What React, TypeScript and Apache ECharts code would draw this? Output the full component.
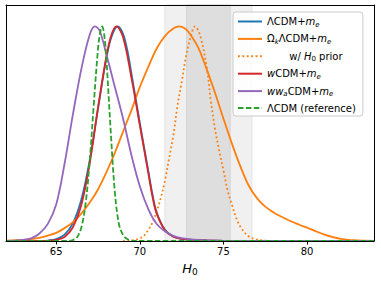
import React, { useEffect, useRef } from "react";
import * as echarts from "echarts";

const xTicks = [65, 70, 75, 80];
const xRange = [62, 84];
const yRange = [0, 1.1];
const bandOuter = [71.5, 76.7];
const bandInner = [72.8, 75.4];

const lcdmMe = [
  [62, 0], [64.0, 0.0005], [64.5, 0.002], [65.0, 0.009], [65.5, 0.03], [66.0, 0.083], [66.5, 0.192],
  [67.0, 0.375], [67.5, 0.617], [68.0, 0.852], [68.3, 0.95], [68.68, 1.0], [69.0, 0.965],
  [69.25, 0.89], [69.5, 0.78], [70.0, 0.55], [70.5, 0.33], [70.75, 0.22], [71.0, 0.135],
  [71.5, 0.052], [72.0, 0.021], [72.5, 0.01], [73.0, 0.006], [74.0, 0.003], [75.0, 0.001], [76.0, 0], [84, 0],
];
const okLcdmMe = [
  [62.0, 0.0015], [62.5, 0.003], [63.0, 0.005], [63.5, 0.009], [64.0, 0.015], [64.5, 0.025],
  [65.0, 0.038], [65.5, 0.06], [66.0, 0.088], [66.5, 0.128], [67.0, 0.178], [67.5, 0.24],
  [68.0, 0.32], [68.5, 0.41], [69.0, 0.51], [69.5, 0.61], [70.0, 0.717], [70.5, 0.81],
  [71.0, 0.896], [71.5, 0.955], [72.0, 0.99], [72.35, 1.0], [72.7, 0.99], [73.0, 0.965],
  [73.5, 0.9], [74.0, 0.8], [74.5, 0.69], [75.0, 0.57], [75.5, 0.455], [76.0, 0.35],
  [76.5, 0.26], [77.0, 0.2], [77.5, 0.16], [78.0, 0.133], [78.5, 0.112], [79.0, 0.093],
  [79.5, 0.077], [80.0, 0.062], [80.5, 0.046], [81.0, 0.031], [81.5, 0.019], [82.0, 0.01],
  [82.5, 0.005], [83.0, 0.003], [83.5, 0.0015], [84.0, 0.001],
];
const h0Prior = [
  [69.0, 0], [69.5, 0.002], [70.0, 0.012], [70.25, 0.025], [70.5, 0.05], [70.75, 0.085],
  [71.0, 0.135], [71.25, 0.2], [71.5, 0.28], [71.75, 0.385], [72.0, 0.49], [72.25, 0.63],
  [72.5, 0.74], [72.75, 0.855], [73.0, 0.94], [73.3, 1.0], [73.6, 0.96], [74.0, 0.81],
  [74.25, 0.65], [74.5, 0.52], [74.75, 0.42], [75.0, 0.33], [75.25, 0.235], [75.5, 0.17],
  [75.75, 0.11], [76.0, 0.068], [76.5, 0.022], [77.0, 0.007], [77.5, 0.002], [78.0, 0.0005], [78.5, 0],
];
const wcdmMe = [
  [62, 0], [64.0, 0.0003], [64.5, 0.001], [65.0, 0.005], [65.5, 0.019], [66.0, 0.064], [66.5, 0.167],
  [67.0, 0.36], [67.5, 0.62], [68.0, 0.86], [68.3, 0.96], [68.6, 1.0], [69.0, 0.95],
  [69.5, 0.76], [70.0, 0.54], [70.5, 0.32], [70.75, 0.21], [71.0, 0.13], [71.5, 0.05],
  [72.0, 0.02], [72.5, 0.01], [73.0, 0.006], [74.0, 0.003], [75.0, 0.001], [76.0, 0], [84, 0],
];
const wwaCdmMe = [
  [62.0, 0.001], [62.5, 0.002], [63.0, 0.005], [63.5, 0.012], [64.0, 0.035], [64.5, 0.08],
  [65.0, 0.17], [65.5, 0.36], [66.0, 0.59], [66.5, 0.8], [67.0, 0.96], [67.32, 1.0],
  [67.6, 0.98], [68.0, 0.87], [68.5, 0.72], [69.0, 0.57], [69.5, 0.4], [70.0, 0.255],
  [70.5, 0.15], [71.0, 0.08], [71.5, 0.045], [72.0, 0.024], [72.5, 0.013], [73.0, 0.008],
  [74.0, 0.003], [75.0, 0.001], [76.0, 0], [84, 0],
];
const lcdmRef = [
  [62, 0], [65.75, 0], [66.0, 0.004], [66.25, 0.018], [66.5, 0.062], [66.75, 0.169], [67.0, 0.368],
  [67.25, 0.64], [67.5, 0.895], [67.625, 0.97], [67.75, 1.0], [67.875, 0.96], [68.0, 0.85],
  [68.25, 0.525], [68.5, 0.234], [68.75, 0.08], [69.0, 0.028], [69.25, 0.009], [69.5, 0.002],
  [69.75, 0], [84, 0],
];

const FONT = "DejaVu Sans";

const legendRich: Record<string, string> = {
  "ΛCDM+m_e": "{n|ΛCDM+}{i|m}{si|e}",
  "Ω_kΛCDM+m_e": "{n|Ω}{si|k}{n|ΛCDM+}{i|m}{si|e}",
  "w/ H_0 prior": "{n|\u00a0\u00a0\u00a0\u00a0\u00a0\u00a0\u00a0w/ }{i|H}{s|0}{n| prior}",
  "wCDM+m_e": "{i|w}{n|CDM+}{i|m}{si|e}",
  "ww_aCDM+m_e": "{i|ww}{si|a}{n|CDM+}{i|m}{si|e}",
  "ΛCDM (reference)": "{n|ΛCDM (reference)}",
};

export default function App() {
  const ref = useRef<HTMLDivElement>(null);
  useEffect(() => {
    if (!ref.current) return;
    const chart = echarts.init(ref.current, undefined, { renderer: "svg" });
    const line = (name: string, data: number[][], color: string, type: any = "solid", z = 2) => ({
      name,
      type: "line",
      data,
      showSymbol: false,
      symbol: "none",
      smooth: 0.35,
      clip: true,
      z,
      lineStyle: { color, width: 1.8, type },
      itemStyle: { color },
    });
    const axisBase = {
      type: "value",
      min: xRange[0],
      max: xRange[1],
      z: 10,
      splitLine: { show: false },
    };
    chart.setOption({
      animation: false,
      backgroundColor: "#fff",
      grid: { left: 6, right: 7, top: 5, bottom: 42 },
      xAxis: [
        {
          ...axisBase,
          position: "bottom",
          axisLine: { show: true, lineStyle: { color: "#000", width: 1 } },
          axisTick: { show: true, length: 3.5, lineStyle: { color: "#000" }, customValues: xTicks },
          axisLabel: {
            show: true,
            color: "#000",
            fontFamily: FONT,
            fontSize: 10,
            margin: 5,
            customValues: xTicks,
          },
          name: "{i|H}{s|0}",
          nameLocation: "middle",
          nameGap: 19,
          nameTextStyle: {
            color: "#000",
            fontFamily: FONT,
            fontSize: 13,
            rich: {
              i: { fontStyle: "italic", fontSize: 13, fontFamily: FONT, color: "#000", lineHeight: 16 },
              s: { fontSize: 9, fontFamily: FONT, color: "#000", padding: [7, 0, 0, 0], lineHeight: 16 },
            },
          },
        },
        {
          ...axisBase,
          position: "top",
          axisLine: { show: true, onZero: false, lineStyle: { color: "#000", width: 1 } },
          axisTick: { show: false },
          axisLabel: { show: false },
        },
      ],
      yAxis: [
        {
          type: "value",
          min: yRange[0],
          max: yRange[1],
          z: 10,
          position: "left",
          axisLine: { show: true, onZero: false, lineStyle: { color: "#000", width: 1 } },
          axisTick: { show: false },
          axisLabel: { show: false },
          splitLine: { show: false },
        },
        {
          type: "value",
          min: yRange[0],
          max: yRange[1],
          z: 10,
          position: "right",
          axisLine: { show: true, onZero: false, lineStyle: { color: "#000", width: 1 } },
          axisTick: { show: false },
          axisLabel: { show: false },
          splitLine: { show: false },
        },
      ],
      legend: {
        orient: "vertical",
        left: 233,
        top: 12,
        padding: [3, 7, 2, 4],
        itemWidth: 24,
        itemHeight: 10,
        itemGap: 4.4,
        backgroundColor: "rgba(255,255,255,0.85)",
        borderColor: "#cccccc",
        borderWidth: 1,
        borderRadius: 3,
        itemStyle: { opacity: 0 },
        data: Object.keys(legendRich),
        formatter: (name: string) => legendRich[name] ?? name,
        textStyle: {
          fontFamily: FONT,
          fontSize: 10,
          color: "#000",
          lineHeight: 12,
          rich: {
            n: { fontFamily: FONT, fontSize: 10, color: "#000", lineHeight: 12 },
            i: { fontFamily: FONT, fontSize: 10, color: "#000", fontStyle: "italic", lineHeight: 12 },
            s: { fontFamily: FONT, fontSize: 7, color: "#000", padding: [6, 0, 0, 0], lineHeight: 12 },
            si: { fontFamily: FONT, fontSize: 7, color: "#000", fontStyle: "italic", padding: [6, 0, 0, 0], lineHeight: 12 },
          },
        },
      },
      series: [
        {
          name: "bands",
          type: "line",
          data: [],
          z: 1,
          markArea: {
            silent: true,
            z: 1,
            data: [
              [
                { xAxis: bandOuter[0], itemStyle: { color: "#f0f0f0", borderColor: "#e3e3e3", borderWidth: 1 } },
                { xAxis: bandOuter[1] },
              ],
              [
                { xAxis: bandInner[0], itemStyle: { color: "#dedede", borderColor: "#d2d2d2", borderWidth: 1 } },
                { xAxis: bandInner[1] },
              ],
            ],
          },
        },
        line("ΛCDM+m_e", lcdmMe, "#1f77b4"),
        line("Ω_kΛCDM+m_e", okLcdmMe, "#ff7f0e"),
        line("w/ H_0 prior", h0Prior, "#ff7f0e", [1.8, 2.6]),
        line("wCDM+m_e", wcdmMe, "#d62728"),
        line("ww_aCDM+m_e", wwaCdmMe, "#9467bd"),
        line("ΛCDM (reference)", lcdmRef, "#2ca02c", [5.5, 2.4]),
      ],
    });
    return () => chart.dispose();
  }, []);
  return (
    <div
      ref={ref}
      style={{ position: "fixed", left: 0, top: 0, width: 381, height: 283, background: "#fff" }}
    />
  );
}
